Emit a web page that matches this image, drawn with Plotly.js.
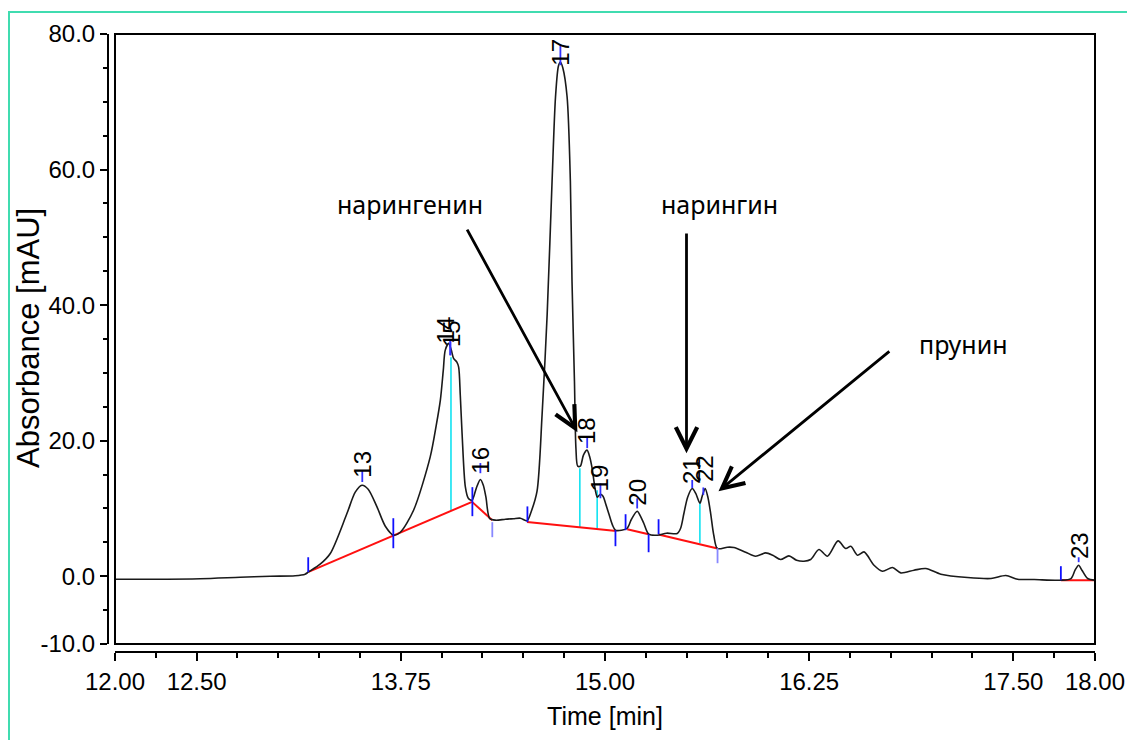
<!DOCTYPE html>
<html>
<head>
<meta charset="utf-8">
<script src="https://cdn.plot.ly/plotly-3.0.1.min.js"></script>
<style>html,body{margin:0;padding:0;background:#fff;}#chart{width:1127px;height:740px;}</style>
</head>
<body>
<div id="chart"></div>
<script>
// ---- chromatogram signal ----
const time = [12.000,12.214,12.521,12.766,12.950,13.103,13.164,13.185,13.256,13.318,13.420,13.471,13.512,13.550,13.604,13.655,13.706,13.747,13.828,13.930,13.967,13.992,14.010,14.022,14.043,14.059,14.073,14.093,14.104,14.114,14.125,14.145,14.163,14.186,14.212,14.237,14.255,14.271,14.294,14.329,14.390,14.439,14.482,14.523,14.549,14.584,14.615,14.646,14.676,14.697,14.715,14.727,14.742,14.768,14.788,14.798,14.813,14.822,14.833,14.849,14.868,14.890,14.907,14.921,14.941,14.953,14.972,14.988,15.003,15.023,15.046,15.064,15.101,15.136,15.162,15.197,15.217,15.238,15.268,15.320,15.377,15.442,15.463,15.483,15.506,15.534,15.555,15.581,15.595,15.613,15.630,15.647,15.666,15.688,15.749,15.789,15.861,15.922,15.984,16.027,16.075,16.126,16.173,16.218,16.259,16.310,16.362,16.427,16.474,16.505,16.546,16.586,16.647,16.699,16.760,16.811,16.892,16.964,17.056,17.220,17.363,17.454,17.526,17.628,17.792,17.853,17.878,17.900,17.920,17.955,18.000];
const absorbance = [-0.44,-0.44,-0.37,-0.15,0.00,0.07,0.30,0.63,1.77,3.35,9.25,12.40,13.43,12.84,10.23,7.38,6.05,6.49,9.74,17.61,22.29,25.98,30.40,33.36,34.35,33.36,32.13,31.59,30.85,26.70,21.06,13.18,11.51,11.22,12.99,14.27,13.43,11.66,8.52,8.27,8.41,8.49,8.56,8.19,9.59,12.55,23.91,38.67,58.30,70.70,75.28,75.87,74.98,70.70,58.30,43.54,28.78,18.89,16.24,16.24,17.86,18.60,17.56,15.94,12.69,11.66,12.10,11.81,10.77,9.25,7.53,6.79,6.79,7.08,8.41,9.59,8.86,7.78,6.20,6.05,6.35,6.30,7.08,9.25,11.66,12.94,12.25,10.77,11.81,12.94,11.66,9.25,6.05,4.09,4.28,4.24,3.54,2.95,3.44,3.10,2.46,3.00,2.36,2.21,2.46,3.94,2.95,5.21,4.09,4.43,3.10,3.59,1.62,0.74,1.28,0.49,0.89,1.14,0.30,-0.19,-0.34,0.10,-0.44,-0.49,-0.59,-0.34,0.89,1.62,0.89,-0.34,-0.59];

// ---- integration baselines (segments separated by null) ----
const baseTime = [13.185,13.706,14.186,null,14.186,14.310,null,14.523,15.070,null,15.136,15.267,null,15.328,15.689,null,17.792,18.000];
const baseAbs  = [0.63,6.05,10.97,null,10.97,8.27,null,8.01,6.69,null,6.94,6.20,null,6.15,4.09,null,-0.59,-0.59];

// ---- drop lines between fused peaks ----
const dropTime = [14.057,14.846,14.952,15.581];
const dropTop  = [32.3,15.94,12.69,10.77];
const dropBottom = [9.74,7.23,7.08,4.87];

// ---- integration event marks ----
const markTime   = [13.183,13.704,14.188,14.525,15.064,15.126,15.267,15.328,17.791];
const markTop    = [2.8,8.56,13.14,10.3,6.79,9.15,6.2,8.41,1.48];
const markBottom = [0.6,4.13,8.86,7.97,4.43,6.79,3.54,6.2,-0.59];
const markTimeLight   = [14.310,15.689];
const markTopLight    = [7.97,4.13];
const markBottomLight = [5.76,1.92];

// ---- peak apex marks and numbers ----
const peakIds   = ['13','14','15','16','17','18','19','20','21','22','23'];
const apexTime  = [13.514,14.053,14.053,14.237,14.727,14.891,14.972,15.197,15.534,15.602,17.900];
const apexTop   = [15.6,34.8,34.8,16.7,78.4,20.5,13.7,11.5,14.2,13.1,2.8];
const apexBottom= [13.9,32.6,32.6,15.2,75.4,18.9,11.5,10.0,13.0,12.0,2.07];
const labelTime = [13.514,14.022,14.060,14.237,14.727,14.887,14.972,15.199,15.530,15.610,17.902];
const labelAbs  = [16.5,36.3,35.8,17.1,77.3,21.5,14.5,12.4,15.6,15.9,4.6];

// ---- compound annotations ----
const compoundNames = ['нарингенин','нарингин','прунин'];
const nameTime = [13.808,15.702,17.197];
const nameAbs  = [54.9,54.9,34.2];
const arrowTailTime = [14.151,15.499,16.750];
const arrowTailAbs  = [51.37,50.77,33.36];
const arrowHeadTime = [14.831,15.499,15.695];
const arrowHeadAbs  = [21.25,18.15,12.55];

// ---- axis ticks and titles ----
const xTickVals = [12,12.5,13.75,15,16.25,17.5,18];
const xTickText = ['12.00','12.50','13.75','15.00','16.25','17.50','18.00'];
const yTickVals = [-10,0,20,40,60,80];
const yTickText = ['-10.0','0.0','20.0','40.0','60.0','80.0'];
const xTitle = 'Time [min]';
const yTitle = 'Absorbance [mAU]';

function segs(t, top, bot){
  const x=[],y=[];
  for(let i=0;i<t.length;i++){x.push(t[i],t[i],null);y.push(bot[i],top[i],null);}
  return {x,y};
}

const drops = segs(dropTime, dropTop, dropBottom);
const marks = segs(markTime, markTop, markBottom);
const marksL = segs(markTimeLight, markTopLight, markBottomLight);
const apex = segs(apexTime, apexTop, apexBottom);

const traces = [
  {x: drops.x, y: drops.y, mode:'lines', line:{color:'#00e0f0', width:1.5}, hoverinfo:'skip'},
  {x: baseTime, y: baseAbs, mode:'lines', line:{color:'#ff1010', width:2}, hoverinfo:'skip'},
  {x: time, y: absorbance, mode:'lines', line:{color:'#1a1a1a', width:1.6, shape:'spline', smoothing:0.8}},
  {x: marks.x, y: marks.y, mode:'lines', line:{color:'#1010ff', width:1.8}, hoverinfo:'skip'},
  {x: marksL.x, y: marksL.y, mode:'lines', line:{color:'#8888ff', width:1.8}, hoverinfo:'skip'},
  {x: apex.x, y: apex.y, mode:'lines', line:{color:'#3030ff', width:1.8}, hoverinfo:'skip'}
];

const annotations = [];
peakIds.forEach((p,i)=>{
  annotations.push({x:labelTime[i], y:labelAbs[i], xref:'x', yref:'y', text:p, showarrow:false, textangle:-90,
    xanchor:'center', yanchor:'middle', font:{family:'Liberation Sans, Arial, sans-serif', size:24, color:'#000'}});
});
compoundNames.forEach((n,i)=>{
  annotations.push({x:nameTime[i], y:nameAbs[i], xref:'x', yref:'y', text:n, showarrow:false,
    xanchor:'center', yanchor:'middle', font:{family:'Noto Sans, Open Sans, sans-serif', size:25, color:'#000'}});
  annotations.push({x:arrowHeadTime[i], y:arrowHeadAbs[i], xref:'x', yref:'y', ax:arrowTailTime[i], ay:arrowTailAbs[i],
    axref:'x', ayref:'y', text:'', showarrow:true, arrowhead:5, arrowsize:1.5, arrowwidth:2.8, arrowcolor:'#000', standoff:0});
});
// y axis title
annotations.push({xref:'paper', yref:'paper', x:-0.0811, y:0.508, text:yTitle, textangle:-90, showarrow:false,
  xanchor:'center', yanchor:'middle', font:{family:'Liberation Sans, Arial, sans-serif', size:31, color:'#000'}});

const tickFont = {family:'Liberation Sans, Arial, sans-serif', size:24, color:'#000'};

const layout = {
  width:1127, height:740,
  margin:{l:108, r:32, t:34, b:88},
  paper_bgcolor:'#fff', plot_bgcolor:'#fff',
  showlegend:false,
  xaxis:{
    domain:[0.00709,1], anchor:'free', position:0, range:[12,18],
    showgrid:false, zeroline:false, showline:true, linecolor:'#000', linewidth:2,
    tickmode:'array', tickvals:xTickVals, ticktext:xTickText,
    ticks:'outside', ticklen:8, tickwidth:2, tickcolor:'#000',
    minor:{tick0:12, dtick:0.25, ticks:'outside', ticklen:5, tickwidth:2, tickcolor:'#000', showgrid:false},
    tickfont:tickFont, automargin:false, ticklabeloverflow:'allow',
    title:{text:xTitle, font:{family:'Liberation Sans, Arial, sans-serif', size:25, color:'#000'}, standoff:13}
  },
  yaxis:{
    domain:[0.01294,1], anchor:'free', position:0, range:[-10,80],
    showgrid:false, zeroline:false, showline:true, linecolor:'#000', linewidth:2,
    tickmode:'array', tickvals:yTickVals, ticktext:yTickText,
    ticks:'outside', ticklen:7, tickwidth:2, tickcolor:'#000',
    minor:{tick0:0, dtick:5, ticks:'outside', ticklen:4, tickwidth:2, tickcolor:'#000', showgrid:false},
    tickfont:tickFont, automargin:false, ticklabeloverflow:'allow'
  },
  shapes:[
    {type:'rect', xref:'paper', yref:'paper', x0:0.00709, x1:1, y0:0.01294, y1:1, line:{color:'#000', width:2}},
    {type:'rect', xref:'paper', yref:'paper', x0:-0.1003, x1:1.2, y0:-0.3, y1:1.0356, line:{color:'#40dcb0', width:2}}
  ],
  annotations: annotations
};

Plotly.newPlot('chart', traces, layout, {displayModeBar:false, staticPlot:true});
</script>
</body>
</html>
